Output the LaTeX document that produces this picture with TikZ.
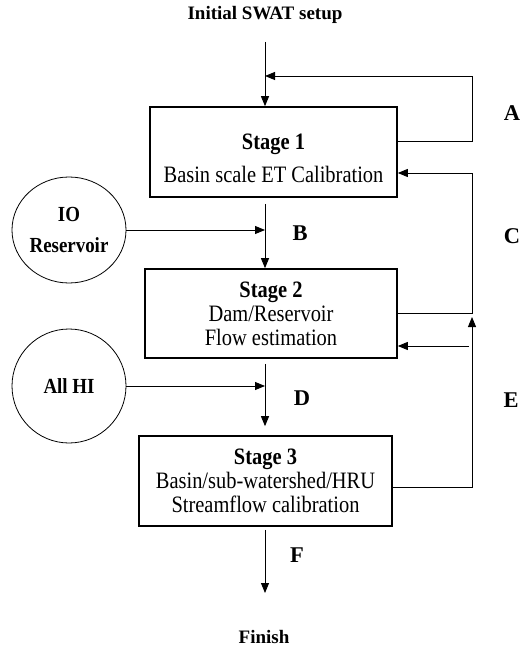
\documentclass[tikz,border=0pt]{standalone}
\usepackage{fontspec}
\setmainfont{Liberation Serif}
\newfontfamily\boxfont{Liberation Serif}[FakeStretch=0.87]
\newfontfamily\roundfont{Liberation Serif}[FakeStretch=0.88]
\usetikzlibrary{arrows.meta,shapes.geometric}

\begin{document}
\begin{tikzpicture}[
    x=1pt, y=-1pt,
    stagebox/.style={draw, line width=1.6pt, align=center, inner sep=0pt, font=\boxfont\fontsize{23.5}{24}\selectfont},
    source/.style={ellipse, draw, line width=0.8pt, align=center, inner sep=0pt, minimum width=114pt, font=\roundfont\bfseries\fontsize{21.5}{26}\selectfont},
    tag/.style={inner sep=0pt, font=\bfseries\fontsize{22.5}{24}\selectfont},
    caption/.style={inner sep=0pt, font=\bfseries\fontsize{19}{22}\selectfont},
    flow/.style={draw, line width=0.9pt, -{Triangle[length=10pt,width=8pt]}}
]
    \useasboundingbox (0,0) rectangle (521,647);
    \node [caption] (init) at (265,15) {Initial SWAT setup};
    \node [caption] (fin) at (264,637) {Finish};

    \node [stagebox, minimum width=247pt, minimum height=90pt] (s1) at (273.5,152) {\rule{0pt}{29pt}\textbf{Stage 1}\\[9pt]Basin scale ET Calibration};
    \node [stagebox, minimum width=252pt, minimum height=89pt] (s2) at (271,313.5) {\textbf{Stage 2}\\Dam/Reservoir\\Flow estimation};
    \node [stagebox, minimum width=253pt, minimum height=90pt] (s3) at (265.5,481) {\textbf{Stage 3}\\Basin/sub-watershed/HRU\\Streamflow calibration};

    \node [source, minimum height=106pt] (io) at (69,230) {IO\\[5pt]Reservoir};
    \node [source, minimum height=114pt] (allhi) at (69,386) {All HI};

    \coordinate (start) at (265,42);
    \coordinate (stop) at (265,593);
    \coordinate (loopA) at (472,76);
    \coordinate (loopC) at (472,173);
    \coordinate (loopE) at (472,317);
    \coordinate (backE) at (469,346);

    \draw [flow] (start) -- (start |- s1.north);
    \draw [flow, shorten <=6pt] (start |- s1.south) -- (start |- s2.north);
    \draw [flow] (io.east) -- (io.east -| start);
    \draw [flow, shorten <=5pt, shorten >=9pt] (start |- s2.south) -- (start |- s3.north);
    \draw [flow] (allhi.east) -- (allhi.east -| start);
    \draw [flow, shorten <=3pt] (start |- s3.south) -- (stop);

    \draw [flow] ([yshift=11pt]s1.east) -| (loopA) -- (loopA -| start);
    \draw [flow] (s2.east) -| (loopC) -- (loopC -| s1.east);
    \draw [flow] ([yshift=-6pt]s3.east) -| (loopE);
    \draw [flow] (backE) -- (backE -| s2.east);

    \node [tag] (tA) at (512,113) {A};
    \node [tag] (tB) at (300,233) {B};
    \node [tag] (tC) at (512,236) {C};
    \node [tag] (tD) at (302,398) {D};
    \node [tag] (tE) at (511,400) {E};
    \node [tag] (tF) at (297,555) {F};
\end{tikzpicture}
\end{document}
